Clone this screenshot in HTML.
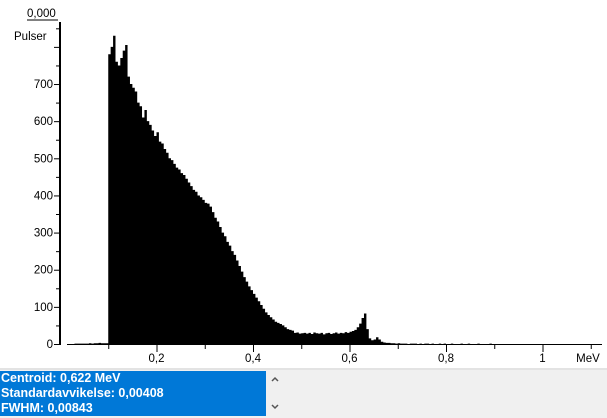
<!DOCTYPE html>
<html><head><meta charset="utf-8">
<style>
html,body{margin:0;padding:0;width:607px;height:416px;overflow:hidden;background:#fff;font-family:"Liberation Sans",Arial,sans-serif;}
#info{position:absolute;left:0;top:371px;width:265px;height:45px;background:#0078d7;color:#fff;font-weight:bold;font-size:12.5px;line-height:15px;padding-left:1px;}
#bottom{position:absolute;left:0;top:368px;width:607px;height:48px;background:#f0f0f0;border-top:2px solid #e3e3e3;}
.arr{position:absolute;left:271px;}
</style></head><body>
<div id="bottom"></div>
<div id="info">
<div>Centroid: 0,622 MeV</div>
<div>Standardavvikelse: 0,00408</div>
<div>FWHM: 0,00843</div>
</div>
<svg class="arr" style="top:376px" width="8" height="6"><path d="M1 5L4 2L7 5" fill="none" stroke="#555" stroke-width="1.5"/></svg>
<svg class="arr" style="top:404px" width="8" height="6"><path d="M1 1L4 4L7 1" fill="none" stroke="#555" stroke-width="1.5"/></svg>
<svg id="chart" width="607" height="368" style="position:absolute;left:0;top:0"></svg>
<script>
const binStart = 0.03;
const binWidth = 0.005;
const counts = [1,1,1,1,1,1,2,1,2,2,3,2,2,2,
780,800,830,760,750,770,790,805,720,700,690,
680,650,640,610,630,600,590,575,560,570,545,
540,525,515,500,495,485,475,470,460,455,
445,435,425,415,410,400,395,388,380,378,
370,355,340,330,315,300,290,275,265,250,
240,225,210,195,180,168,155,145,135,125,
115,105,95,85,78,72,66,60,57,54,
50,45,40,38,36,30,31,28,29,30,
28,30,27,31,29,28,30,26,29,30,
27,29,31,28,30,29,32,30,33,35,
38,45,55,70,82,40,15,10,12,18,
12,6,4,3,3,2,2,1,2,1,
1,1,0,1,1,1,0,1,0,1,1,0,1,0,0,1,0,1,0,0,1,0,0,0,1,0,0,1,0,0,0,1,0,0,0,0,1];
const xTicks = [0.2,0.4,0.6,0.8,1];
const xTickLabels = ["0,2","0,4","0,6","0,8","1"];
const yTicks = [0,100,200,300,400,500,600,700];

const svg = document.getElementById('chart');
const NS = 'http://www.w3.org/2000/svg';
const X = v => 60 + v * 482.5;
const Y = v => 344 - v * 0.3714;
function mk(tag, attrs){const e=document.createElementNS(NS,tag);for(const k in attrs)e.setAttribute(k,attrs[k]);svg.appendChild(e);return e;}

let d='';
counts.forEach((c,i)=>{ if(c<=0) return;
  const x0=X(binStart+i*binWidth), x1=X(binStart+(i+1)*binWidth), y=Y(c);
  d+=`M${x0.toFixed(2)} 344V${y.toFixed(2)}H${x1.toFixed(2)}V344Z`;});
const bars = mk('path',{d:d,fill:'#000'});



const ya = mk('line',{x1:60,y1:22,x2:60,y2:345,stroke:'#000','stroke-width':2});


mk('line',{x1:27,y1:20,x2:58,y2:20,stroke:'#000','stroke-width':1});
const xa = mk('line',{x1:67,y1:344.5,x2:602,y2:344.5,stroke:'#000','stroke-width':1});



for(let v=0; v<=850; v+=50){
  const major = v%100===0;
  mk('line',{x1:major?54:56,y1:Y(v)+0.5,x2:60,y2:Y(v)+0.5,stroke:'#000'});
}
yTicks.forEach(v=>{
  const t = mk('text',{x:53,y:Y(v)+4,'text-anchor':'end','font-size':11.5,fill:'#000','font-family':'Liberation Sans, sans-serif'});
  t.textContent = v;
  
  
});
for(let k=1;k<=11;k++){
  const v=k/10; mk('line',{x1:X(v)+0.5,y1:344,x2:X(v)+0.5,y2:k%2===0?352:349,stroke:'#000'});
}
xTicks.forEach((v,i)=>{
  const t = mk('text',{x:X(v),y:362,'text-anchor':'middle','font-size':11.5,fill:'#000','font-family':'Liberation Sans, sans-serif'});
  t.textContent = xTickLabels[i];
  
  
});
const u = mk('text',{x:588,y:362,'text-anchor':'middle','font-size':11.5,fill:'#000','font-family':'Liberation Sans, sans-serif'});
u.textContent='MeV';


const z = mk('text',{x:27,y:17,'font-size':11.5,fill:'#000','font-family':'Liberation Sans, sans-serif'});
z.textContent='0,000';


const p = mk('text',{x:14,y:40,'font-size':11.5,fill:'#000','font-family':'Liberation Sans, sans-serif'});
p.textContent='Pulser';


</script>
</body></html>
